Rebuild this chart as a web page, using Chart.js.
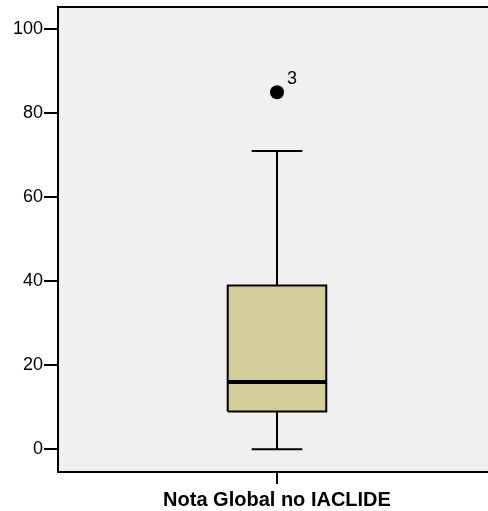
<!DOCTYPE html>
<html lang="en">
<head>
    <meta charset="UTF-8">
    <title>Nota Global no IACLIDE</title>
    <script src="https://cdn.jsdelivr.net/npm/chart.js"></script>
    <style>
        html, body { margin: 0; padding: 0; background: #ffffff; overflow: hidden; }
    </style>
</head>
<body>
    <canvas id="boxChart" width="488" height="511"></canvas>
    <script>
        // Data
        const categories = ['Nota Global no IACLIDE'];
        const minValues = [0];
        const q1Values = [9];
        const medianValues = [16];
        const q3Values = [39];
        const maxValues = [71];
        const outlierValues = [85];
        const outlierLabels = ['3'];
        const yTicks = [0, 20, 40, 60, 80, 100];

        const boxHalf = 0.225;
        const capHalf = 0.1155;
        const font = "'Liberation Sans', Arial, sans-serif";

        // Build the box pieces for the single category at x = 0
        // (Chart.js paints the first dataset on top, so the box goes last)
        const i = 0;
        const datasets = [
            {   // outliers
                data: outlierValues.map(v => ({x: 0, y: v})),
                showLine: false, pointRadius: 7, pointBackgroundColor: '#000',
                pointBorderColor: '#000', pointBorderWidth: 0
            },
            {   // median
                data: [{x: -boxHalf, y: medianValues[i]}, {x: boxHalf, y: medianValues[i]}],
                showLine: true, borderColor: '#000', borderWidth: 4, pointRadius: 0
            },
            {   // upper whisker
                data: [{x: 0, y: q3Values[i]}, {x: 0, y: maxValues[i]}],
                showLine: true, borderColor: '#000', borderWidth: 2, pointRadius: 0
            },
            {   // lower whisker
                data: [{x: 0, y: q1Values[i]}, {x: 0, y: minValues[i]}],
                showLine: true, borderColor: '#000', borderWidth: 2, pointRadius: 0
            },
            {   // upper cap
                data: [{x: -capHalf, y: maxValues[i]}, {x: capHalf, y: maxValues[i]}],
                showLine: true, borderColor: '#000', borderWidth: 2, pointRadius: 0
            },
            {   // lower cap
                data: [{x: -capHalf, y: minValues[i]}, {x: capHalf, y: minValues[i]}],
                showLine: true, borderColor: '#000', borderWidth: 2, pointRadius: 0
            },
            {   // box
                data: [
                    {x: -boxHalf, y: q1Values[i]}, {x: boxHalf, y: q1Values[i]},
                    {x: boxHalf, y: q3Values[i]}, {x: -boxHalf, y: q3Values[i]},
                    {x: -boxHalf, y: q1Values[i]}
                ],
                showLine: true, fill: 'shape', backgroundColor: '#d3ce98',
                borderColor: '#000', borderWidth: 2, pointRadius: 0, tension: 0
            }
        ];

        // plot background + top border + outlier labels
        const plotDecor = {
            id: 'plotDecor',
            beforeDraw(chart) {
                const {ctx, chartArea: a} = chart;
                ctx.save();
                ctx.fillStyle = '#f0f0f0';
                ctx.fillRect(a.left, a.top, a.right - a.left, a.bottom - a.top);
                ctx.restore();
            },
            afterDraw(chart) {
                const {ctx, chartArea: a, scales} = chart;
                ctx.save();
                ctx.strokeStyle = '#000';
                ctx.lineWidth = 2;
                ctx.beginPath();
                ctx.moveTo(a.left - 1, a.top);
                ctx.lineTo(a.right, a.top);
                ctx.stroke();
                ctx.fillStyle = '#000';
                ctx.font = '18px ' + font;
                ctx.textBaseline = 'alphabetic';
                outlierValues.forEach((v, k) => {
                    const px = scales.x.getPixelForValue(0);
                    const py = scales.y.getPixelForValue(v);
                    ctx.fillText(outlierLabels[k], px + 10, py - 8);
                });
                ctx.restore();
            }
        };

        const config = {
            type: 'scatter',
            data: { datasets: datasets },
            plugins: [plotDecor],
            options: {
                responsive: false,
                animation: false,
                layout: { autoPadding: false, padding: { top: 7, right: 0, left: 0, bottom: 0 } },
                plugins: { legend: { display: false }, tooltip: { enabled: false } },
                scales: {
                    x: {
                        type: 'linear',
                        min: -1,
                        max: 0.9635,
                        afterBuildTicks: function(scale) {
                            scale.ticks = [{value: 0}];
                        },
                        afterFit: function(scale) {
                            scale.height = 39;
                            scale.paddingLeft = 0;
                            scale.paddingRight = 0;
                        },
                        ticks: {
                            color: '#000',
                            padding: 4,
                            font: { family: font, size: 20, weight: 'bold' },
                            callback: function() { return categories[0]; }
                        },
                        grid: {
                            drawOnChartArea: false, drawTicks: true, tickLength: 12,
                            color: '#000', lineWidth: 2
                        },
                        border: { display: true, color: '#000', width: 2 }
                    },
                    y: {
                        min: -5.4,
                        max: 105.3,
                        afterBuildTicks: function(scale) {
                            scale.ticks = yTicks.map(v => ({value: v}));
                        },
                        afterFit: function(scale) {
                            scale.width = 58;
                            scale.paddingTop = 0;
                            scale.paddingBottom = 0;
                        },
                        ticks: {
                            color: '#000',
                            padding: 1,
                            font: { family: font, size: 18 }
                        },
                        grid: {
                            drawOnChartArea: false, drawTicks: true, tickLength: 14,
                            color: '#000', lineWidth: 2
                        },
                        border: { display: true, color: '#000', width: 2 }
                    }
                }
            }
        };

        const myChart = new Chart(document.getElementById('boxChart'), config);
    </script>
</body>
</html>
